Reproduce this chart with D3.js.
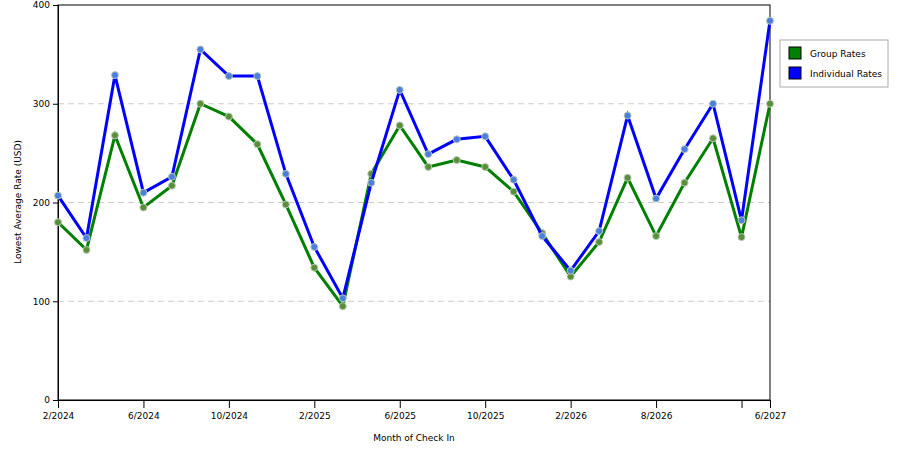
<!DOCTYPE html>
<html><head><meta charset="utf-8">
<script src="https://cdn.jsdelivr.net/npm/d3@7"></script>
<style>body{margin:0;background:#fff}text{font-family:"DejaVu Sans",Verdana,sans-serif;font-size:9px}</style>
</head><body><svg id="c" width="900" height="450"></svg>
<script>
// categories (blank = no label shown)
var months = ["2/2024","","","6/2024","","","10/2024","","","2/2025","","","6/2025","","","10/2025","","","2/2026","","","8/2026","","","","6/2027"];
var tickIdx = [0,3,6,9,12,15,18,21,24,25];
var groupRates = [180,152,268,195,217,300,287,259,198,134,95,229,278,236,243,236,211,169,125,160,225,166,220,265,165,300];
var indivRates = [207,164,329,210,226,355,328,328,229,155,103,220,314,249,264,267,223,166,131,171,288,204,254,300,182,384];
var yTicks = [0,100,200,300,400];

var svg = d3.select("#c");
var x = d3.scaleLinear().domain([0, months.length - 1]).range([58, 770]);
var y = d3.scaleLinear().domain([0, 400]).range([400, 5]);

// grid lines
svg.selectAll(".grid").data([100,200,300]).enter().append("line")
  .attr("x1", 58).attr("x2", 770).attr("y1", d => y(d)).attr("y2", d => y(d))
  .attr("stroke", "#ccc").attr("stroke-dasharray", "6,4");

svg.append("rect").attr("x", 58).attr("y", 5).attr("width", 712).attr("height", 395)
  .attr("fill", "none").attr("stroke", "#000");

// axes
var xAxis = d3.axisBottom(x).tickValues(tickIdx).tickFormat(i => months[i]).tickSizeOuter(0).tickSize(8);
svg.append("g").attr("transform", "translate(0,400)").call(xAxis)
  .call(g => g.selectAll("text").attr("dy", "0.9em"));
var yAxis = d3.axisLeft(y).tickValues(yTicks).tickSizeOuter(0).tickSize(5);
svg.append("g").attr("transform", "translate(58,0)").call(yAxis);
svg.selectAll(".tick text").style("font-size", "9px").attr("fill", "#000");

svg.append("text").attr("x", 414).attr("y", 441).attr("text-anchor", "middle").text("Month of Check In");
svg.append("text").attr("transform", "translate(21,202) rotate(-90)").attr("text-anchor", "middle").text("Lowest Average Rate (USD)");

// series
var series = [
  {name: "Group Rates", data: groupRates, color: "#008000", pt: "#5a8f3a"},
  {name: "Individual Rates", data: indivRates, color: "#0000ff", pt: "#4a7fe0"}
];
var line = d3.line().x((d, i) => x(i)).y(d => y(d));
series.forEach(function(s) {
  svg.append("path").datum(s.data).attr("d", line).attr("fill", "none")
    .attr("stroke", s.color).attr("stroke-width", 3);
  svg.selectAll(null).data(s.data).enter().append("circle")
    .attr("cx", (d, i) => x(i)).attr("cy", d => y(d)).attr("r", 3.5)
    .attr("fill", s.pt).attr("stroke", "#b8c8b8").attr("stroke-width", 1);
});

// legend
var lg = svg.append("g");
lg.append("rect").attr("x", 780).attr("y", 40).attr("width", 108).attr("height", 47)
  .attr("fill", "#fff").attr("stroke", "#aaa");
series.forEach(function(s, i) {
  lg.append("rect").attr("x", 789).attr("y", 47 + i * 20).attr("width", 12).attr("height", 12)
    .attr("fill", s.color).attr("stroke", "#000");
  lg.append("text").attr("x", 810).attr("y", 57 + i * 20).text(s.name);
});
</script></body></html>
